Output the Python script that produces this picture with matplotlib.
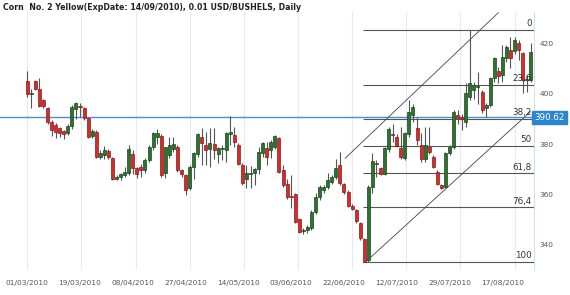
import matplotlib
matplotlib.use("Agg")
import matplotlib.pyplot as plt
import matplotlib.transforms as mtransforms

title = "Corn  No. 2 Yellow(ExpDate: 14/09/2010), 0.01 USD/BUSHELS, Daily"

opens = [405.2, 400.0, 405.2, 401.9, 397.6, 394.5, 388.9, 387.6, 386.3, 385.3,
         384.3, 387.2, 393.9, 395.2, 394.5, 390.3, 383.2, 384.9, 374.9, 375.6,
         377.3, 374.5, 366.0, 366.7, 367.6, 368.3, 375.9, 370.3, 370.9, 369.6,
         373.6, 378.7, 382.9, 383.2, 368.3, 375.5, 378.0, 378.7, 369.6, 367.6,
         362.3, 370.9, 375.9, 382.6, 379.6, 377.9, 379.9, 375.9, 378.0, 377.6,
         384.0, 383.6, 379.6, 371.6, 365.9, 368.0, 368.3, 369.9, 376.3, 378.3,
         377.6, 378.9, 382.3, 369.6, 364.0, 359.4, 360.0, 349.9, 345.4, 345.6,
         346.3, 352.9, 358.7, 361.6, 362.9, 364.9, 366.7, 371.5, 363.9, 360.9,
         355.3, 353.6, 348.3, 342.0, 333.5, 362.9, 372.3, 370.3, 368.0, 377.9,
         384.0, 382.9, 378.3, 374.3, 384.0, 391.6, 386.3, 379.6, 373.9, 379.0,
         375.0, 368.9, 363.6, 362.9, 376.3, 378.9, 391.6, 390.6, 388.7, 398.9,
         401.6, 402.9, 401.0, 394.3, 395.6, 406.3, 409.2, 407.6, 414.3, 417.6,
         417.2, 420.3, 416.3, 405.6, 405.6]
highs = [409.2, 401.9, 405.8, 406.3, 398.0, 395.0, 389.5, 388.5, 387.0, 385.8,
         388.0, 395.5, 397.0, 396.5, 395.0, 390.8, 386.0, 385.5, 377.5, 379.2,
         378.0, 375.0, 367.5, 368.5, 371.0, 379.5, 377.5, 371.0, 372.0, 374.5,
         379.5, 385.0, 386.0, 384.0, 379.0, 383.0, 383.0, 379.5, 370.0, 368.0,
         371.5, 377.0, 384.5, 386.3, 385.0, 386.5, 386.3, 379.0, 379.5, 385.0,
         391.2, 387.0, 380.5, 372.5, 371.6, 371.2, 370.5, 379.0, 381.0, 381.0,
         381.5, 383.8, 382.8, 371.5, 366.0, 367.6, 360.5, 350.5, 346.5, 347.5,
         353.5, 360.5, 363.5, 363.5, 368.5, 367.5, 374.0, 376.9, 364.5, 361.5,
         356.0, 354.0, 349.0, 342.5, 363.5, 376.3, 373.6, 371.0, 379.0, 387.0,
         388.0, 384.0, 386.9, 385.0, 397.8, 396.0, 390.9, 384.5, 387.0, 386.9,
         375.5, 369.5, 364.0, 376.8, 379.5, 393.5, 393.6, 392.0, 404.3, 425.6,
         405.0, 409.0, 401.5, 396.5, 407.0, 415.0, 411.0, 419.5, 419.5, 422.9,
         423.0, 421.5, 417.0, 407.6, 420.4]
lows = [399.0, 394.5, 401.5, 394.8, 394.6, 388.0, 383.2, 382.3, 382.7, 382.1,
        383.5, 386.0, 390.0, 391.0, 389.5, 382.5, 382.5, 374.5, 374.0, 374.0,
        374.0, 365.5, 365.6, 365.5, 367.0, 367.5, 368.0, 366.5, 367.0, 368.5,
        373.0, 377.5, 380.0, 367.0, 366.5, 374.5, 377.0, 369.0, 366.9, 359.6,
        361.5, 366.0, 375.0, 371.6, 371.5, 371.0, 374.0, 372.5, 373.5, 372.9,
        379.5, 379.0, 371.5, 363.5, 362.3, 362.3, 363.5, 368.0, 375.0, 371.6,
        374.5, 378.0, 368.5, 363.0, 358.0, 354.3, 348.5, 344.5, 344.0, 344.5,
        345.5, 352.0, 357.5, 360.5, 362.0, 364.0, 366.0, 363.5, 360.0, 355.0,
        353.5, 348.5, 341.5, 332.8, 332.8, 360.3, 366.9, 367.5, 367.5, 377.0,
        381.0, 379.0, 374.0, 373.5, 383.0, 389.0, 379.5, 373.0, 373.0, 376.0,
        370.5, 363.5, 362.0, 362.3, 375.5, 378.0, 388.0, 385.6, 387.0, 397.5,
        398.0, 396.0, 392.5, 390.9, 395.0, 405.0, 404.5, 405.0, 413.0, 410.3,
        416.0, 413.6, 400.3, 400.9, 405.0]
closes = [399.9, 400.4, 401.9, 395.3, 395.2, 388.9, 385.6, 384.9, 384.5, 384.0,
          387.2, 394.9, 396.3, 394.9, 390.3, 382.9, 385.2, 374.9, 376.3, 377.6,
          374.7, 366.0, 366.9, 367.9, 368.7, 377.9, 370.3, 367.9, 369.6, 373.6,
          378.7, 384.3, 384.3, 367.6, 378.7, 379.8, 379.9, 369.6, 367.9, 361.5,
          370.9, 376.3, 383.9, 380.3, 377.6, 380.5, 377.6, 378.3, 378.4, 384.4,
          384.6, 380.9, 372.0, 364.3, 368.3, 368.4, 369.9, 376.8, 380.4, 374.9,
          380.9, 383.3, 368.9, 363.6, 358.7, 359.0, 348.9, 344.9, 345.6, 346.9,
          352.9, 358.9, 362.9, 362.9, 365.6, 366.9, 370.3, 364.3, 360.9, 355.3,
          354.0, 349.3, 342.3, 333.0, 362.9, 373.3, 372.0, 368.0, 378.3, 385.9,
          383.6, 379.4, 374.9, 384.5, 392.9, 394.9, 381.6, 373.9, 379.6, 376.9,
          370.9, 364.0, 362.3, 376.3, 378.9, 392.9, 390.3, 390.0, 400.3, 404.3,
          403.6, 403.0, 393.6, 395.6, 406.3, 414.3, 407.3, 415.0, 419.0, 414.3,
          421.6, 417.6, 405.5, 405.8, 417.0]

date_labels = ["01/03/2010", "19/03/2010", "08/04/2010", "27/04/2010", "14/05/2010",
               "03/06/2010", "22/06/2010", "12/07/2010", "29/07/2010", "17/08/2010"]
date_label_bars = [0, 13, 26, 39, 52, 65, 78, 91, 104, 117]
grid_bars = [0, 13.3, 26.7, 40, 53.3, 66.7, 80, 93.3, 106.7, 120]
price_ticks = [340, 360, 380, 400, 420]

last_price = 390.62
fib_high = 425.6
fib_low = 332.8
fib_start_bar = 82.8
fib_ratios = [0, 23.6, 38.2, 50, 61.8, 76.4, 100]
fib_texts = ["0", "23,6", "38,2", "50", "61,8", "76,4", "100"]
channel_lower_x = [83.3, 123.9]
channel_lower_y = [332.8, 392.9]
channel_upper_x = [78.3, 116.0]
channel_upper_y = [374.3, 432.5]

W, H = 570, 295
fig = plt.figure(figsize=(W / 100, H / 100), dpi=100)
fig.patch.set_facecolor("white")
ax = fig.add_axes([0 / W, (H - 270) / H, 534 / W, (270 - 12) / H])
ax.set_xlim(-6.7, 124.8)
ax.set_ylim(329.6, 432.8)
for s in ["top", "left", "bottom"]:
    ax.spines[s].set_visible(False)
ax.spines["right"].set_color("#d5dde5")
ax.spines["right"].set_linewidth(0.8)

for g in grid_bars:
    ax.axvline(g, color="#e4ebf2", lw=0.8, zorder=0)

# horizontal last price line
ax.axhline(last_price, color="#4a90d0", lw=1.0, zorder=1)

# fib lines
rng = fib_high - fib_low
for r, t in zip(fib_ratios, fib_texts):
    lvl = fib_high - r / 100.0 * rng
    ax.plot([fib_start_bar, 124.8], [lvl, lvl], color="#555555", lw=0.8, zorder=2,
            solid_capstyle="butt")
    tr = mtransforms.blended_transform_factory(ax.transAxes, ax.transData)
    tr = tr + mtransforms.ScaledTranslation(0, 1.5 / 100, fig.dpi_scale_trans)
    ax.text(0.996, lvl, t, transform=tr, ha="right", va="bottom",
            fontsize=6.3, color="#333333", zorder=5)

# channel lines
ax.plot(channel_lower_x, channel_lower_y, color="#444444", lw=0.6, zorder=2)
ax.plot(channel_upper_x, channel_upper_y, color="#444444", lw=0.6, zorder=2)

# candles
xs = list(range(len(opens)))
ax.vlines(xs, lows, highs, color="#555555", lw=0.8, zorder=3)
up_x, up_b, up_h, dn_x, dn_b, dn_h = [], [], [], [], [], []
for i in xs:
    o, c = opens[i], closes[i]
    h = max(abs(c - o), 0.4)
    if c >= o:
        up_x.append(i); up_b.append(min(o, c)); up_h.append(h)
    else:
        dn_x.append(i); dn_b.append(min(o, c)); dn_h.append(h)
ax.bar(up_x, up_h, bottom=up_b, width=0.74, color="#2b742e", edgecolor="#1b451d",
       linewidth=0.5, zorder=4)
ax.bar(dn_x, dn_h, bottom=dn_b, width=0.74, color="#d42b2b", edgecolor="#8c1a1a",
       linewidth=0.5, zorder=4)

# axes ticks
ax.set_xticks(date_label_bars)
ax.set_xticklabels(date_labels)
ax.tick_params(axis="x", length=0, pad=7, labelsize=5.3, labelcolor="#555555")
ax.yaxis.tick_right()
ax.set_yticks(price_ticks)
ax.set_yticklabels([str(p) for p in price_ticks])
ax.tick_params(axis="y", length=0, pad=4, labelsize=5.3, labelcolor="#555555")

# last price box
trb = mtransforms.blended_transform_factory(ax.transAxes, ax.transData)
ax.text(1.0, last_price, "%.2f" % last_price, transform=trb, ha="left", va="center",
        fontsize=6.3, color="white", zorder=6, clip_on=False,
        bbox=dict(boxstyle="square,pad=0.25", fc="#2a86d1", ec="#2a86d1"))

fig.text(3 / W, 1 - 8 / H, title, ha="left", va="center", fontsize=5.7,
         fontweight="bold", color="#222222")

fig.savefig("out.png", dpi=100, facecolor="white")
